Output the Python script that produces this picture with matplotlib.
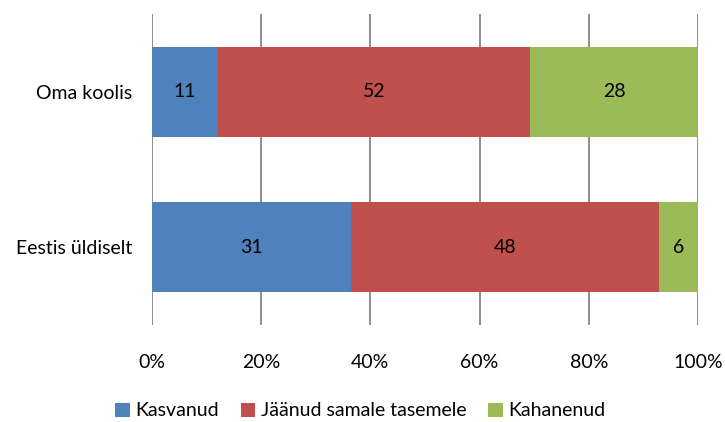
import matplotlib
matplotlib.use("Agg")
import matplotlib.pyplot as plt
import numpy as np

categories = ["Oma koolis", "Eestis üldiselt"]
series_names = ["Kasvanud", "Jäänud samale tasemele", "Kahanenud"]
kasvanud = [11, 31]
jaanud = [52, 48]
kahanenud = [28, 6]
colors = ["#4F81BD", "#C0504D", "#9BBB59"]
xticklabels = ["0%", "20%", "40%", "60%", "80%", "100%"]

plt.rcParams['font.family'] = ['Lato', 'DejaVu Sans']
FS = 14

fig = plt.figure(figsize=(7.25, 4.22), dpi=100)
ax = fig.add_axes([152/725, 1-325/422, (698-152)/725, (325-14)/422])

data = np.array([kasvanud, jaanud, kahanenud], dtype=float)
totals = data.sum(axis=0)
pct = data / totals * 100

y = np.arange(len(categories))
left = np.zeros(len(categories))
handles = []
for i, name in enumerate(series_names):
    b = ax.barh(y, pct[i], left=left, height=0.58, color=colors[i], label=name,
                zorder=3, edgecolor='none')
    handles.append(b)
    for j in range(len(categories)):
        ax.text(left[j] + pct[i][j]/2, y[j], f"{int(data[i][j])}", ha='center', va='center',
                fontsize=FS, color='black', zorder=4)
    left += pct[i]

ax.set_xlim(0, 100)
ax.set_ylim(1.5, -0.5)
ax.set_yticks(y)
ax.set_yticklabels(categories, fontsize=FS)
ax.set_xticks(np.arange(0, 101, 20))
ax.set_xticklabels(xticklabels, fontsize=FS)
ax.tick_params(axis='both', length=0)
ax.tick_params(axis='x', pad=21)
ax.tick_params(axis='y', pad=14)
for s in ax.spines.values():
    s.set_visible(False)
ax.grid(axis='x', color='#868686', linewidth=1.3, zorder=0)

fig.legend(handles, series_names, loc='center', bbox_to_anchor=(0.497, 1-411/422),
           ncol=3, frameon=False, fontsize=FS, handlelength=0.75, handleheight=0.75,
           columnspacing=1.1, handletextpad=0.3)

fig.savefig("out.png", dpi=100)
